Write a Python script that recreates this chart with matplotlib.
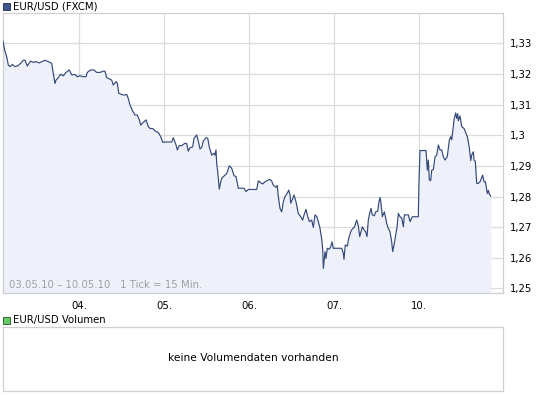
import matplotlib
matplotlib.use("Agg")
import matplotlib.pyplot as plt
from matplotlib.patches import Rectangle

# ---- data (x = trading-day position; 1 = 04.05., 5 = 10.05.) ----
day_pos = [0.102, 0.122, 0.146, 0.165, 0.185, 0.212, 0.244, 0.279, 0.311, 0.341,
           0.361, 0.388, 0.428, 0.459, 0.491, 0.529, 0.558, 0.596, 0.635, 0.675,
           0.687, 0.714, 0.726, 0.753, 0.781, 0.812, 0.844, 0.882, 0.911, 0.949,
           0.976, 1.008, 1.047, 1.079, 1.094, 1.134, 1.173, 1.205, 1.244, 1.282,
           1.302, 1.322, 1.353, 1.381, 1.400, 1.432, 1.447, 1.464, 1.499, 1.526,
           1.558, 1.576, 1.596, 1.628, 1.655, 1.682, 1.706, 1.722, 1.753, 1.785,
           1.812, 1.832, 1.864, 1.891, 1.929, 1.958, 1.981, 2.008, 2.087, 2.106,
           2.138, 2.153, 2.176, 2.205, 2.244, 2.264, 2.282, 2.302, 2.334, 2.349,
           2.381, 2.400, 2.420, 2.440, 2.459, 2.491, 2.511, 2.529, 2.558, 2.585,
           2.596, 2.608, 2.616, 2.628, 2.647, 2.664, 2.675, 2.714, 2.734, 2.765,
           2.793, 2.820, 2.844, 2.871, 2.899, 2.938, 2.961, 2.988, 3.087, 3.106,
           3.134, 3.158, 3.185, 3.224, 3.244, 3.264, 3.282, 3.314, 3.329, 3.341,
           3.361, 3.381, 3.400, 3.420, 3.447, 3.464, 3.479, 3.487, 3.506, 3.526,
           3.549, 3.576, 3.605, 3.628, 3.644, 3.667, 3.682, 3.706, 3.734, 3.753,
           3.773, 3.793, 3.812, 3.832, 3.852, 3.864, 3.871, 3.891, 3.902, 3.918,
           3.941, 3.958, 3.973, 3.988, 4.008, 4.087, 4.106, 4.114, 4.129, 4.153,
           4.169, 4.193, 4.216, 4.235, 4.264, 4.282, 4.299, 4.314, 4.329, 4.353,
           4.369, 4.385, 4.400, 4.416, 4.432, 4.447, 4.471, 4.487, 4.511, 4.526,
           4.538, 4.549, 4.565, 4.588, 4.605, 4.616, 4.635, 4.655, 4.675, 4.687,
           4.706, 4.722, 4.738, 4.753, 4.773, 4.793, 4.812, 4.824, 4.871, 4.891,
           4.918, 4.988, 4.996, 5.008, 5.079, 5.094, 5.106, 5.118, 5.134, 5.146,
           5.165, 5.185, 5.205, 5.224, 5.244, 5.264, 5.282, 5.302, 5.329, 5.353,
           5.369, 5.381, 5.400, 5.408, 5.428, 5.440, 5.452, 5.459, 5.479, 5.499,
           5.526, 5.549, 5.565, 5.576, 5.588, 5.605, 5.616, 5.635, 5.644, 5.659,
           5.675, 5.694, 5.714, 5.746, 5.761, 5.777, 5.800, 5.812, 5.824, 5.840]

eurusd = [1.3307, 1.3278, 1.3256, 1.3229, 1.3224, 1.3231, 1.3224, 1.3227, 1.3235, 1.3245,
          1.3245, 1.3226, 1.3242, 1.3238, 1.3240, 1.3236, 1.3240, 1.3245, 1.3240, 1.3235,
          1.3213, 1.3169, 1.3180, 1.3188, 1.3199, 1.3194, 1.3205, 1.3213, 1.3197, 1.3198,
          1.3191, 1.3194, 1.3191, 1.3191, 1.3205, 1.3213, 1.3213, 1.3205, 1.3205, 1.3209,
          1.3209, 1.3188, 1.3184, 1.3180, 1.3164, 1.3175, 1.3170, 1.3137, 1.3133, 1.3131,
          1.3133, 1.3120, 1.3099, 1.3079, 1.3066, 1.3066, 1.3050, 1.3033, 1.3042, 1.3050,
          1.3028, 1.3022, 1.3022, 1.3014, 1.3009, 1.2995, 1.2977, 1.2978, 1.2978, 1.2992,
          1.2968, 1.2952, 1.2966, 1.2966, 1.2974, 1.2972, 1.2948, 1.2959, 1.2962, 1.2990,
          1.3001, 1.2981, 1.2955, 1.2960, 1.2981, 1.2992, 1.2990, 1.2962, 1.2935, 1.2941,
          1.2935, 1.2952, 1.2908, 1.2881, 1.2824, 1.2848, 1.2859, 1.2870, 1.2875, 1.2900,
          1.2892, 1.2868, 1.2865, 1.2827, 1.2827, 1.2827, 1.2816, 1.2823, 1.2823, 1.2851,
          1.2845, 1.2841, 1.2848, 1.2854, 1.2856, 1.2850, 1.2837, 1.2830, 1.2836, 1.2800,
          1.2761, 1.2750, 1.2783, 1.2800, 1.2811, 1.2821, 1.2805, 1.2778, 1.2790, 1.2805,
          1.2783, 1.2745, 1.2734, 1.2723, 1.2740, 1.2758, 1.2740, 1.2718, 1.2723, 1.2699,
          1.2740, 1.2735, 1.2718, 1.2696, 1.2660, 1.2625, 1.2565, 1.2620, 1.2598, 1.2631,
          1.2628, 1.2636, 1.2652, 1.2631, 1.2631, 1.2631, 1.2615, 1.2595, 1.2642, 1.2638,
          1.2663, 1.2685, 1.2696, 1.2699, 1.2723, 1.2705, 1.2669, 1.2685, 1.2701, 1.2690,
          1.2685, 1.2669, 1.2723, 1.2745, 1.2761, 1.2740, 1.2737, 1.2750, 1.2752, 1.2783,
          1.2797, 1.2778, 1.2734, 1.2750, 1.2729, 1.2712, 1.2696, 1.2685, 1.2652, 1.2620,
          1.2647, 1.2674, 1.2701, 1.2745, 1.2734, 1.2730, 1.2701, 1.2740, 1.2740, 1.2718,
          1.2734, 1.2734, 1.2845, 1.2950, 1.2950, 1.2886, 1.2919, 1.2854, 1.2852, 1.2886,
          1.2888, 1.2930, 1.2935, 1.2968, 1.2952, 1.2952, 1.2930, 1.2919, 1.2930, 1.2984,
          1.2995, 1.2985, 1.3028, 1.3050, 1.3073, 1.3055, 1.3070, 1.3047, 1.3063, 1.3028,
          1.3022, 1.3006, 1.2995, 1.2979, 1.2960, 1.2917, 1.2935, 1.2946, 1.2919, 1.2915,
          1.2843, 1.2843, 1.2848, 1.2870, 1.2848, 1.2848, 1.2810, 1.2820, 1.2808, 1.2801]

day_ticks = [1, 2, 3, 4, 5]
day_labels = ["04.", "05.", "06.", "07.", "10."]
price_ticks = [1.25, 1.26, 1.27, 1.28, 1.29, 1.30, 1.31, 1.32, 1.33]
price_labels = ["1,25", "1,26", "1,27", "1,28", "1,29", "1,3", "1,31", "1,32", "1,33"]

LINE = "#34497a"
FILL = "#eef1fa"
GRID = "#dcdcdc"
BORDER = "#d0d0d0"
FS = 7.3

plt.rcParams["font.family"] = ["DejaVu Sans"]
W, H = 545, 395
fig = plt.figure(figsize=(W / 100, H / 100), dpi=100)
fig.patch.set_facecolor("white")

def frac(x0, y0, x1, y1):
    return [x0 / W, 1 - y1 / H, (x1 - x0) / W, (y1 - y0) / H]

ax = fig.add_axes(frac(2.7, 13.3, 503.3, 292.7))
ax.set_xlim(0.0988, 5.988)
ax.set_ylim(1.2486, 1.3398)
ax.fill_between(day_pos, eurusd, 1.2486, color=FILL, lw=0, zorder=1)
ax.plot(day_pos, eurusd, color=LINE, lw=0.85, zorder=3)

ax.set_xticks(day_ticks)
ax.set_xticklabels(day_labels, fontsize=FS)
ax.set_yticks(price_ticks)
ax.set_yticklabels(price_labels, fontsize=FS)
ax.yaxis.tick_right()
ax.tick_params(axis="both", length=0, colors="black")
ax.tick_params(axis="x", pad=6)
ax.tick_params(axis="y", pad=5)
ax.grid(True, color=GRID, lw=0.9, zorder=0)
ax.set_axisbelow(True)
for s in ax.spines.values():
    s.set_color(BORDER)
    s.set_linewidth(0.9)

ax.text(0.012, 0.01, "03.05.10 \u2013 10.05.10   1 Tick = 15 Min.", transform=ax.transAxes,
        fontsize=FS, color="#a0a0a0", ha="left", va="bottom", zorder=4)

# titles with colored squares
fig.patches.append(Rectangle((3 / W, 1 - 10 / H), 7 / W, 7 / H, transform=fig.transFigure,
                             facecolor="#40568a", edgecolor="#1c2a4a", lw=0.6))
fig.text(13 / W, 1 - 6.5 / H, "EUR/USD (FXCM)", fontsize=FS, va="center", ha="left")
fig.patches.append(Rectangle((3 / W, 1 - 323.5 / H), 7 / W, 7 / H, transform=fig.transFigure,
                             facecolor="#66cc66", edgecolor="#225522", lw=0.6))
fig.text(13 / W, 1 - 320 / H, "EUR/USD Volumen", fontsize=FS, va="center", ha="left")

# empty volume panel
vax = fig.add_axes(frac(2.7, 326.7, 503.3, 391))
vax.set_xticks([])
vax.set_yticks([])
for s in vax.spines.values():
    s.set_color(BORDER)
    s.set_linewidth(0.9)
vax.text(0.5, 0.52, "keine Volumendaten vorhanden", transform=vax.transAxes,
         fontsize=FS + 0.4, ha="center", va="center")

fig.savefig("out.png", dpi=100, facecolor="white")
